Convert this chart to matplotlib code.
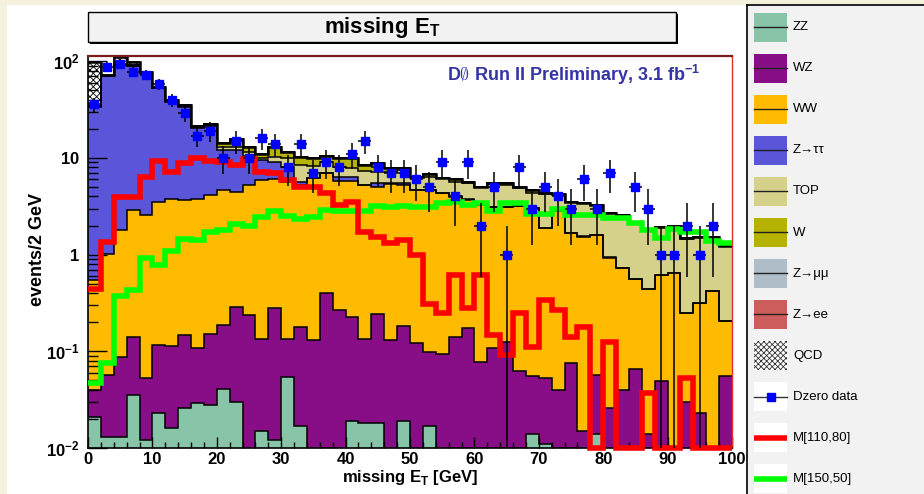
import numpy as np
import matplotlib
matplotlib.use("Agg")
import matplotlib.pyplot as plt
from matplotlib.patches import Rectangle
from matplotlib.ticker import FixedLocator, MultipleLocator

# missing ET, 2 GeV bins from 0 to 100
edges = np.arange(0, 101, 2)

zz = [0.021, 0.013, 0.013, 0.035, 0.012, 0.023, 0.016, 0.026, 0.029, 0.028,
      0.041, 0.030, 0, 0.015, 0.012, 0.054, 0.017, 0, 0, 0,
      0.019, 0.018, 0.018, 0, 0.019, 0, 0.017, 0, 0, 0,
      0, 0, 0, 0, 0.014, 0.011, 0, 0, 0, 0.014,
      0, 0, 0, 0, 0, 0, 0, 0, 0, 0]
wz = [0.019, 0.044, 0.075, 0.107, 0.041, 0.093, 0.098, 0.123, 0.080, 0.124,
      0.146, 0.260, 0.238, 0.118, 0.271, 0.079, 0.160, 0.130, 0.399, 0.268,
      0.205, 0.115, 0.224, 0.131, 0.164, 0.123, 0.082, 0.093, 0.142, 0.173,
      0.077, 0.108, 0.126, 0.062, 0.041, 0.042, 0.040, 0.075, 0.015, 0.043,
      0.026, 0.040, 0.066, 0.014, 0.049, 0, 0.030, 0.023, 0, 0.056]
ww = [0.51, 0.96, 1.71, 2.76, 2.52, 3.41, 3.63, 3.55, 3.63, 3.99,
      4.48, 4.19, 5.02, 5.79, 5.74, 5.57, 5.12, 6.07, 6.55, 5.53,
      5.58, 5.13, 4.76, 5.27, 5.12, 4.55, 4.57, 4.21, 3.84, 3.53,
      3.22, 2.99, 2.97, 3.14, 2.95, 1.82, 2.76, 1.59, 1.52, 1.54,
      0.90, 0.68, 0.49, 0.43, 0.57, 0.65, 0.22, 0.29, 0.42, 0.15]
ztt = [33.5, 69.0, 89.8, 86.6, 72.4, 49.1, 34.5, 30.3, 16.6, 17.3,
       7.4, 7.6, 5.2, 3.6, 3.1, 2.3, 0.40, 0.05, 0.05, 0.60,
       0.60, 0.04, 0.50, 0.05, 0.25, 0.02, 0.02, 0.02, 0.02, 0.02,
       0.02, 0.02, 0.02, 0.02, 0.02, 0.02, 0.01, 0.01, 0.01, 0.01,
       0.01, 0.01, 0.01, 0, 0, 0, 0, 0, 0, 0]
top = [0.05, 0.10, 0.15, 0.20, 0.20, 0.25, 0.30, 0.30, 0.40, 0.40,
       1.0, 1.0, 1.1, 0.4, 1.2, 1.9, 2.8, 2.05, 2.1, 1.7,
       1.4, 2.1, 1.7, 1.75, 1.95, 1.66, 1.61, 1.83, 1.70, 1.78,
       1.68, 2.28, 2.08, 1.68, 1.28, 2.36, 1.43, 1.83, 1.84, 1.67,
       1.74, 1.85, 1.56, 1.34, 1.30, 1.33, 1.21, 1.20, 1.09, 1.02]
wjets = [0.3, 0.5, 0.8, 0.8, 0.6, 0.5, 0.5, 0.4, 0.3, 0.4,
         1.3, 2.8, 1.5, 1.0, 2.6, 1.7, 1.8, 1.6, 1.4, 1.8,
         2.1, 1.1, 1.6, 0.6, 0.3, 0.05, 0.5, 0.05, 0.3, 0.2,
         0.05, 0.1, 0.3, 0.15, 0.37, 0.05, 0.05, 0.02, 0.02, 0.02,
         0.02, 0.02, 0.02, 0.01, 0.01, 0.01, 0.01, 0.01, 0.01, 0.01]
zmm = [0.2, 0.3, 0.5, 0.5, 0.3, 0.3, 0.3, 0.2, 0.2, 0.2,
       0, 0, 0, 0, 0, 0, 0, 0, 0, 0,
       0, 0, 0, 0, 0, 0, 0, 0, 0, 0,
       0, 0, 0, 0, 0, 0, 0, 0, 0, 0,
       0, 0, 0, 0, 0, 0, 0, 0, 0, 0]
zee = [0.1, 0.1, 0.05, 0.1, 0.1, 0.05, 0.1, 0.1, 0.1, 0.1,
       0, 0, 0, 0, 0, 0, 0, 0, 0, 0,
       0, 0, 0, 0, 0, 0, 0, 0, 0, 0,
       0, 0, 0, 0, 0, 0, 0, 0, 0, 0,
       0, 0, 0, 0, 0, 0, 0, 0, 0, 0]
qcd = [64.3, 1.0, 16.9, 7.9, 0.8, 0.8, 0.6, 0.2, 0, 0,
       0, 0, 0, 0, 0, 0, 0, 0, 0, 0,
       0, 0, 0, 0, 0, 0, 0, 0, 0, 0,
       0, 0, 0, 0, 0, 0, 0, 0, 0, 0,
       0, 0, 0, 0, 0, 0, 0, 0, 0, 0]

data = [36, 88, 94, 78, 72, 58, 40, 29, 17, 19,
        10, 15, 10, 16, 14, 8, 14, 7, 9, 8,
        11, 15, 8, 7, 7, 6, 5, 9, 4, 9,
        2, 5, 1, 8, 3, 5, 4, 3, 6, 3,
        7, 0, 5, 3, 1, 1, 2, 1, 2, 0]

m110_80 = [0.44, 1.36, 3.98, 3.98, 6.4, 9.2, 7.2, 8.8, 9.9, 9.2,
           9.0, 8.5, 9.7, 7.2, 7.0, 5.9, 5.0, 5.05, 4.3, 3.27,
           3.53, 1.73, 1.54, 1.31, 1.42, 0.99, 0.31, 0.25, 0.62, 0.28,
           0.62, 0.148, 0.092, 0.25, 0.112, 0.34, 0.27, 0.142, 0.18, 0,
           0.126, 0, 0, 0.037, 0, 0, 0.053, 0, 0, 0]
m150_50 = [0.047, 0.075, 0.37, 0.43, 0.92, 0.78, 1.10, 1.45, 1.42, 1.73,
           1.80, 2.07, 1.97, 2.48, 2.83, 2.52, 2.35, 2.48, 2.9, 2.8,
           2.8, 2.8, 3.19, 3.1, 3.2, 3.1, 3.1, 3.4, 3.5, 3.3,
           3.45, 2.85, 3.45, 3.45, 2.63, 2.66, 2.94, 2.6, 2.55, 2.55,
           2.38, 2.38, 2.12, 1.80, 1.48, 1.83, 1.70, 1.73, 1.39, 1.31]

processes = [("ZZ", zz, "#88c4a8"),
             ("WZ", wz, "#880e88"),
             ("WW", ww, "#ffbb00"),
             ("Z\u2192\u03c4\u03c4", ztt, "#5b55d9"),
             ("TOP", top, "#d5d18b"),
             ("W", wjets, "#b5b300"),
             ("Z\u2192\u03bc\u03bc", zmm, "#aebdc8"),
             ("Z\u2192ee", zee, "#cd5c5c"),
             ("QCD", qcd, "white")]

plt.rcParams['font.family'] = ['Liberation Sans', 'DejaVu Sans']
plt.rcParams['mathtext.fontset'] = 'custom'
plt.rcParams['mathtext.rm'] = 'Liberation Sans'
plt.rcParams['mathtext.bf'] = 'Liberation Sans:bold'
plt.rcParams['hatch.linewidth'] = 0.6

W, H = 924, 494
def fx(px):
    return px / W
def fy(py):
    return 1 - py / H

fig = plt.figure(figsize=(9.24, 4.94), dpi=100)
fig.patch.set_facecolor('#f4f1dc')
canvas = Rectangle((fx(7), 0), fx(747) - fx(7), fy(5), transform=fig.transFigure,
                   facecolor='white', edgecolor='none', zorder=-10)
fig.add_artist(canvas)

ax = fig.add_axes([fx(88), fy(448), fx(732) - fx(88), fy(56) - fy(448)])
ax.set_zorder(2)
ymin, ymax = 0.01, 113.5
floor = 1e-3

# stacked backgrounds
cum = np.zeros(len(edges) - 1)
levels = []
for name, vals, col in processes:
    low = cum.copy()
    cum = cum + np.array(vals, dtype=float)
    levels.append((name, np.maximum(low, floor), np.maximum(cum, floor), col))

for name, lo, hi, col in levels:
    if name == "QCD":
        ax.stairs(hi, edges, baseline=lo, fill=True, facecolor='white',
                  edgecolor='black', hatch='xxxxx', lw=0, zorder=1)
    else:
        ax.stairs(hi, edges, baseline=lo, fill=True, color=col, lw=0, zorder=1)
for name, lo, hi, col in levels:
    ax.stairs(hi, edges, baseline=None, color='black', lw=1.1, zorder=2)
ax.stairs(levels[-1][2], edges, baseline=None, color='black', lw=1.8, zorder=2)

# signals
sig1 = np.array(m110_80, dtype=float)
sig2 = np.array(m150_50, dtype=float)
ax.stairs(np.where(sig2 > 0, sig2, ymin), edges, baseline=None, color='#00ff00', lw=4, zorder=3)
ax.stairs(np.where(sig1 > 0, sig1, ymin), edges, baseline=None, color='#ff0000', lw=4,
          zorder=4, clip_on=False)

# data
d = np.array(data, dtype=float)
centers = 0.5 * (edges[:-1] + edges[1:])
m = d > 0
err = np.sqrt(d)
lower = np.minimum(err, d - 1e-4)
ax.errorbar(centers[m], d[m], yerr=[lower[m], err[m]], xerr=1, fmt='s', color='#0000ff',
            mec='#0000ff', ms=5.5, ecolor='black', elinewidth=1.1, capsize=0, zorder=6)

ax.set_yscale('log')
ax.set_xlim(0, 100)
ax.set_ylim(ymin, ymax)
ax.yaxis.set_major_locator(FixedLocator([0.01, 0.1, 1, 10, 100]))
ax.yaxis.set_minor_locator(FixedLocator([k * 10.0 ** e for e in range(-2, 2) for k in range(2, 10)]))
ax.set_yticklabels([r'$\mathbf{10^{-2}}$', r'$\mathbf{10^{-1}}$', r'$\mathbf{1}$',
                    r'$\mathbf{10}$', r'$\mathbf{10^{2}}$'])
ax.xaxis.set_major_locator(MultipleLocator(10))
ax.xaxis.set_minor_locator(MultipleLocator(2))
ax.tick_params(axis='y', which='major', direction='in', length=14, width=1, labelsize=12, pad=6)
ax.tick_params(axis='y', which='minor', direction='in', length=7, width=1)
ax.tick_params(axis='x', which='major', direction='in', length=8, width=1, labelsize=12, pad=3)
ax.tick_params(axis='x', which='minor', direction='in', length=4, width=1)
for lab in ax.get_xticklabels():
    lab.set_fontweight('bold')
ax.tick_params(right=False, top=False)
for s in ('left', 'bottom'):
    ax.spines[s].set_linewidth(1.2)
ax.spines['top'].set_color('#7b1c1c')
ax.spines['top'].set_linewidth(1.6)
ax.spines['right'].set_color('#e03030')
ax.spines['right'].set_linewidth(1.0)

ax.text(0.950, 0.9515, r'D$\emptyset$ Run II Preliminary, 3.1 fb$^{\mathbf{-1}}$',
        transform=ax.transAxes, ha='right', va='center', fontsize=13, fontweight='bold',
        color='#3434a6', zorder=8)

# title box
fig.add_artist(Rectangle((fx(90), fy(44)), fx(676) - fx(88), fy(12) - fy(42),
                         transform=fig.transFigure, facecolor='black', edgecolor='none', zorder=1))
fig.add_artist(Rectangle((fx(88), fy(42)), fx(676) - fx(88), fy(12) - fy(42),
                         transform=fig.transFigure, facecolor='#f2f2f2', edgecolor='black',
                         lw=1, zorder=2))
fig.text(fx(382), fy(27), r'missing E$_{\mathbf{T}}$', ha='center', va='center',
         fontsize=16, fontweight='bold', zorder=3)

fig.text(fx(410), fy(477), r'missing E$_{\mathbf{T}}$ [GeV]', ha='center', va='center',
         fontsize=12, fontweight='bold')
fig.text(fx(38), fy(250), 'events/2 GeV', ha='center', va='center', rotation=90,
         fontsize=13, fontweight='bold')

# legend panel
lax = fig.add_axes([fx(747), 0, 1 - fx(747), fy(5)])
lax.set_xlim(747, 924)
lax.set_ylim(494, 5)
lax.set_facecolor('#f2f2f2')
lax.set_xticks([])
lax.set_yticks([])
lax.spines['right'].set_visible(False)
lax.spines['bottom'].set_visible(False)
lax.spines['left'].set_linewidth(1.2)
lax.spines['top'].set_linewidth(1.2)

entries = [(n, c, 'fill') for n, v, c in processes]
entries[-1] = ("QCD", 'white', 'hatch')
entries += [("Dzero data", 'white', 'data'), ("M[110,80]", 'white', 'red'),
            ("M[150,50]", 'white', 'green')]
for i, (name, col, kind) in enumerate(entries):
    y0 = 13 + 41 * i
    yc = y0 + 14.5
    if kind == 'hatch':
        lax.add_patch(Rectangle((754, y0), 33, 29, facecolor='white', edgecolor='#333333',
                                hatch='xxxxxx', lw=0))
    else:
        lax.add_patch(Rectangle((754, y0), 33, 29, facecolor=col, edgecolor='none'))
    if kind == 'fill':
        lax.plot([754, 787], [yc, yc], color='#222222', lw=1)
    elif kind == 'data':
        lax.plot([754, 787], [yc, yc], color='#333333', lw=1)
        lax.plot([770.5], [yc], 's', color='#0000ff', ms=5.5)
    elif kind == 'red':
        lax.plot([754, 787], [yc, yc], color='#ff0000', lw=4, solid_capstyle='butt')
    elif kind == 'green':
        lax.plot([754, 787], [yc, yc], color='#00ff00', lw=4, solid_capstyle='butt')
    lax.text(793, yc, name, ha='left', va='center', fontsize=9.5)

fig.savefig('out.png', dpi=100, facecolor=fig.get_facecolor())
